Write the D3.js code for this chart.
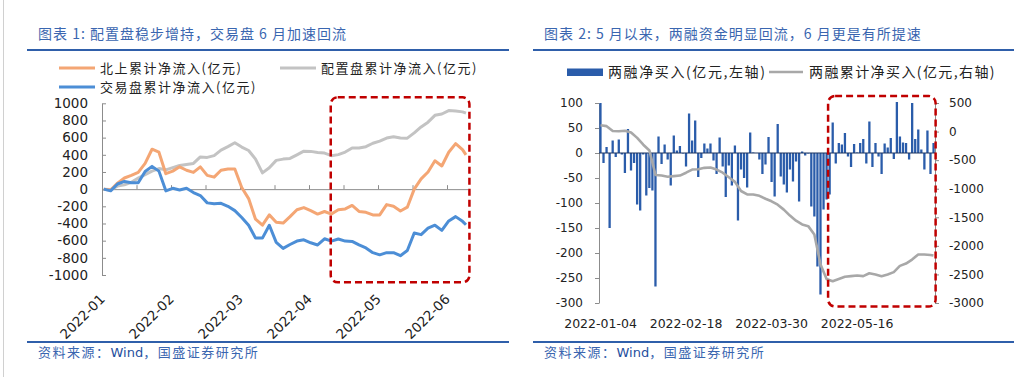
<!DOCTYPE html>
<html>
<head>
<meta charset="utf-8">
<script src="https://cdn.jsdelivr.net/npm/d3@7"></script>
<style>
  body { margin: 0; background: #fff; }
  svg { display: block; }
</style>
</head>
<body>
<script>
// ---- chart 1: cumulative flows, one value every 2 trading days (last point = final day)
const leftIdx = d3.range(0, 105, 2).concat([105]);
const monthLabels = ['2022-01', '2022-02', '2022-03', '2022-04', '2022-05', '2022-06'];
const northbound = [0, -10, 70, 130, 160, 195, 300, 465, 430, 180, 210, 260, 220, 195, 260, 160, 140, 220, 235, 235, 20, -110, -350, -420, -300, -385, -395,
  -320, -240, -215, -250, -290, -260, -290, -240, -230, -190, -260, -270, -300, -300, -180, -200, -255, -210, 0, 120, 200, 330, 270, 430, 530, 460, 400];
const allocation = [0, -5, 35, 50, 80, 128, 170, 210, 240, 225, 250, 275, 288, 300, 375, 370, 390, 455, 495, 540, 490, 450, 350, 190, 250, 335, 350,
  358, 400, 442, 440, 428, 420, 390, 402, 432, 480, 480, 495, 535, 560, 595, 610, 595, 594, 655, 725, 780, 860, 875, 915, 910, 900, 885];
const trading = [0, -20, 60, 90, 75, 75, 205, 265, 210, -20, 10, -10, 10, -40, -75, -160, -170, -165, -200, -250, -330, -420, -570, -570, -420, -620, -690,
  -645, -605, -590, -625, -650, -578, -605, -580, -605, -609, -650, -685, -740, -765, -740, -740, -775, -715, -510, -530, -455, -420, -480, -370, -320, -375, -415];

// ---- chart 2: margin trading, daily net buy (left axis) and cumulative (right axis)
const marginDays = 110;
const dateLabels = ['2022-01-04', '2022-02-18', '2022-03-30', '2022-05-16'];
const labelStep = 28;
const netBuy = [100, -20, 12, -150, 25, -8, 27, -3, -40, 48,
  -35, -20, -103, -115, -3, -85, -70, -75, -267, 33,
  -22, 17, -13, -65, 35, 5, 14, -1, -27, 79,
  25, 65, -48, -10, 19, 9, 19, -15, -42, 31,
  -27, -88, -25, -65, 15, -135, -33, -50, -69, 41,
  1, 0, -13, -42, -23, 32, -58, -87, 58, -47,
  -63, -79, -33, -57, -17, -97, 3, -5, -1, -107,
  -127, -227, -283, -113, -93, -83, 61, -21, 20, 17,
  40, -7, -28, 18, 1, 20, 28, -21, 63, -28,
  20, -7, -42, 19, 11, 30, -12, 102, 33, 21,
  20, -13, 100, 28, 47, 7, -33, 45, -42, 20];
const cumIdx = d3.range(0, 109, 2).concat([109]);
const cumBuy = [110, 95, 10, 5, 15, -15, -110, -230, -330, -760,
  -770, -790, -780, -770, -720, -665, -660, -635, -630, -665,
  -720, -800, -880, -1040, -1100, -1100, -1125, -1175, -1220, -1280,
  -1366, -1470, -1560, -1625, -1655, -1800, -2320, -2580, -2620, -2580,
  -2540, -2530, -2520, -2530, -2480, -2500, -2530, -2500, -2460, -2350,
  -2310, -2240, -2150, -2150, -2160, -2170];

const W = 1024, H = 377;
const num = '"DejaVu Sans", Verdana, sans-serif';
const cjk = '"Noto Sans CJK SC", sans-serif';
const blue = '#3a66b0';

const svg = d3.select('body').append('svg')
  .attr('width', W).attr('height', H)
  .style('font-family', num);

svg.append('line').attr('x1', 3.5).attr('x2', 3.5).attr('y1', 0).attr('y2', H)
  .attr('stroke', '#d0d0d0');

// header / footer for both panels
function frame(x0, x1, title) {
  svg.append('text').attr('x', x0 + 11).attr('y', 38.5)
    .style('font-family', cjk).style('font-size', '14px').style('letter-spacing', '1px')
    .attr('fill', blue).text(title);
  svg.append('line').attr('x1', x0).attr('x2', x1).attr('y1', 50).attr('y2', 50)
    .attr('stroke', '#2f5faa').attr('stroke-width', 2);
  svg.append('line').attr('x1', x0).attr('x2', x1).attr('y1', 342).attr('y2', 342)
    .attr('stroke', '#2f5faa').attr('stroke-width', 2);
  const f = svg.append('text').attr('x', x0 + 11).attr('y', 357)
    .style('font-family', cjk).style('font-size', '13px').style('letter-spacing', '1.5px')
    .attr('fill', blue);
  f.append('tspan').text('资料来源：');
  f.append('tspan').attr('fill', '#1f4f9e').style('font-family', num).style('letter-spacing', '0').text('Wind');
  f.append('tspan').text('，国盛证券研究所');
}
frame(27, 509, '图表 1: 配置盘稳步增持，交易盘 6 月加速回流');
frame(533, 1014, '图表 2: 5 月以来，两融资金明显回流，6 月更是有所提速');

// ================= left chart =================
const xL = d3.scaleLinear().domain([0, 106]).range([102, 467.7]);
const yL = d3.scaleLinear().domain([-1000, 1000]).range([275, 103.3]);
const gL = svg.append('g');

gL.append('g').attr('transform', 'translate(102,0)')
  .call(d3.axisLeft(yL).tickValues(d3.range(-1000, 1001, 200)).tickSize(-4).tickSizeOuter(0)
    .tickPadding(14).tickFormat(d => String(d)))
  .call(g => g.selectAll('path,line').attr('stroke', '#8c8c8c'))
  .call(g => g.selectAll('text').attr('fill', '#222').style('font-size', '13.5px').style('font-family', num));

gL.append('g').attr('transform', `translate(0,${yL(0)})`)
  .call(d3.axisBottom(xL).tickValues(d3.range(0, 106, 10)).tickSize(-4).tickSizeOuter(0).tickFormat(''))
  .call(g => g.selectAll('path,line').attr('stroke', '#8c8c8c'));

gL.selectAll('.mlab').data(monthLabels).join('text')
  .attr('class', 'mlab')
  .attr('transform', (d, i) => `translate(${xL(i * 20 + 0.5) + 2},300) rotate(-45)`)
  .attr('text-anchor', 'end')
  .attr('fill', '#222').style('font-size', '13.5px')
  .text(d => d);

const lineL = d3.line().x((d, i) => xL(leftIdx[i] + 0.5)).y(d => yL(d));
const seriesL = [
  { name: '配置盘累计净流入(亿元)', values: allocation, color: '#c3c3c3' },
  { name: '北上累计净流入(亿元)', values: northbound, color: '#f4a674' },
  { name: '交易盘累计净流入(亿元)', values: trading, color: '#4c8ed6' }
];
gL.selectAll('.sl').data(seriesL).join('path')
  .attr('class', 'sl')
  .attr('d', d => lineL(d.values))
  .attr('fill', 'none').attr('stroke', d => d.color)
  .attr('stroke-width', 3).attr('stroke-linejoin', 'round');

// legend
const legL = [
  { s: seriesL[1], x: 59, y: 68 },
  { s: seriesL[0], x: 280, y: 68 },
  { s: seriesL[2], x: 59, y: 87 }
];
legL.forEach(l => {
  svg.append('line').attr('x1', l.x).attr('x2', l.x + 36).attr('y1', l.y).attr('y2', l.y)
    .attr('stroke', l.s.color).attr('stroke-width', 2.8);
  svg.append('text').attr('x', l.x + 41).attr('y', l.y + 4.5)
    .style('font-family', cjk).style('font-size', '13px').style('letter-spacing', '1.5px')
    .attr('fill', '#222').text(l.s.name);
});

// highlight box
gL.append('rect')
  .attr('x', xL(66.3)).attr('y', yL(1070))
  .attr('width', xL(106.5) - xL(66.3)).attr('height', yL(-1085) - yL(1070))
  .attr('rx', 7).attr('fill', 'none')
  .attr('stroke', '#c00000').attr('stroke-width', 2.5).attr('stroke-dasharray', '7 4');

// ================= right chart =================
const xR = d3.scaleBand().domain(d3.range(marginDays)).range([599, 935]).paddingInner(0.25).paddingOuter(0.1);
const xRl = d3.scaleLinear().domain([0, marginDays]).range([599, 935]);
const yR = d3.scaleLinear().domain([-300, 100]).range([303, 103]);
const yR2 = d3.scaleLinear().domain([-3000, 500]).range([303, 103]);
const gR = svg.append('g');

gR.append('g').attr('transform', 'translate(599,0)')
  .call(d3.axisLeft(yR).tickValues(d3.range(-300, 101, 50)).tickSize(4).tickSizeOuter(0)
    .tickPadding(12).tickFormat(d => String(d)))
  .call(g => g.selectAll('path,line').attr('stroke', '#8c8c8c'))
  .call(g => g.selectAll('text').attr('fill', '#222').style('font-size', '12px').style('font-family', num));

gR.append('g').attr('transform', 'translate(935,0)')
  .call(d3.axisRight(yR2).tickValues(d3.range(-3000, 501, 500)).tickSize(4).tickSizeOuter(0)
    .tickPadding(10).tickFormat(d => String(d)))
  .call(g => g.selectAll('path,line').attr('stroke', '#8c8c8c'))
  .call(g => g.selectAll('text').attr('fill', '#222').style('font-size', '12px').style('font-family', num));

gR.selectAll('.bar').data(netBuy).join('rect')
  .attr('class', 'bar')
  .attr('x', (d, i) => xR(i)).attr('width', xR.bandwidth())
  .attr('y', d => yR(Math.max(0, d))).attr('height', d => Math.abs(yR(d) - yR(0)))
  .attr('fill', '#2a5caa');

gR.append('line').attr('x1', 599).attr('x2', 935).attr('y1', yR(0)).attr('y2', yR(0))
  .attr('stroke', '#1d3461').attr('stroke-width', 1.2);

const lineR = d3.line().x((d, i) => xRl(cumIdx[i] + 0.5)).y(d => yR2(d));
gR.append('path').attr('d', lineR(cumBuy))
  .attr('fill', 'none').attr('stroke', '#a8a8a8').attr('stroke-width', 2.6).attr('stroke-linejoin', 'round');

gR.selectAll('.dlab').data(dateLabels).join('text')
  .attr('class', 'dlab')
  .attr('x', (d, i) => xRl(i * labelStep + 0.5)).attr('y', 328)
  .attr('text-anchor', 'middle').attr('fill', '#222').style('font-size', '12.5px')
  .text(d => d);

// legend
svg.append('rect').attr('x', 567).attr('y', 68.5).attr('width', 36).attr('height', 7.5).attr('fill', '#2a5caa');
svg.append('text').attr('x', 608).attr('y', 77)
  .style('font-family', cjk).style('font-size', '14px').style('letter-spacing', '1.6px')
  .attr('fill', '#222').text('两融净买入(亿元,左轴)');
svg.append('line').attr('x1', 769).attr('x2', 803).attr('y1', 72).attr('y2', 72)
  .attr('stroke', '#a8a8a8').attr('stroke-width', 2.6);
svg.append('text').attr('x', 809).attr('y', 77)
  .style('font-family', cjk).style('font-size', '14px').style('letter-spacing', '1.4px')
  .attr('fill', '#222').text('两融累计净买入(亿元,右轴)');

// highlight box
gR.append('rect')
  .attr('x', xRl(75)).attr('y', yR(114))
  .attr('width', xRl(110.2) - xRl(75)).attr('height', yR(-307) - yR(114))
  .attr('rx', 7).attr('fill', 'none')
  .attr('stroke', '#c00000').attr('stroke-width', 2.5).attr('stroke-dasharray', '7 4');
</script>
</body>
</html>
